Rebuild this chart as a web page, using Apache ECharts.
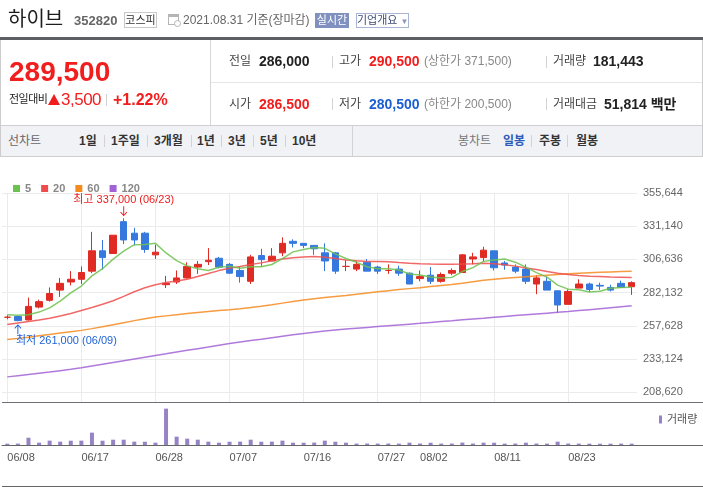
<!DOCTYPE html>
<html>
<head>
<meta charset="utf-8">
<script src="https://cdn.jsdelivr.net/npm/echarts@6/dist/echarts.min.js"></script>
<style>
  body { margin: 0; width: 703px; height: 487px; overflow: hidden; background: #fff;
         font-family: 'Liberation Sans', 'Noto Sans CJK KR', sans-serif; position: relative; }
  .t { position: absolute; white-space: nowrap; line-height: 1; z-index: 2; }
  .b { font-weight: bold; }
  .ln { position: absolute; z-index: 2; }
  .sep { position: absolute; width: 1px; height: 12px; background: #d3d3d3; z-index: 2; }
  #chart { position: absolute; left: 0; top: 0; width: 703px; height: 487px; z-index: 1; }
</style>
</head>
<body>
<div id="chart"></div>

<!-- title line -->
<div class="t" style="left:8px;top:8px;font-size:20px;color:#1d1d1d;font-family:'Noto Sans CJK KR'">하이브</div>
<div class="t b" style="left:74px;top:14px;font-size:13px;color:#666">352820</div>
<div class="t" style="left:124px;top:12px;width:31px;height:14px;border:1px solid #c9c9c9;font-size:11px;line-height:14px;color:#333;text-align:center">코스피</div>
<svg class="t" style="left:168px;top:13px" width="13" height="14" viewBox="0 0 13 14">
  <rect x="0.5" y="1.5" width="10" height="10" fill="none" stroke="#b5b5b5"/>
  <rect x="0.5" y="1.5" width="10" height="2.5" fill="#b5b5b5"/>
  <circle cx="9.5" cy="10.5" r="3" fill="#fff" stroke="#b5b5b5"/>
</svg>
<div class="t" style="left:183px;top:14px;font-size:12px;color:#666">2021.08.31 기준(장마감)</div>
<div class="t" style="left:315px;top:13px;width:34px;height:15px;background:#8091bf;color:#fff;font-size:11px;line-height:15px;text-align:center">실시간</div>
<div class="t" style="left:356px;top:13px;width:51px;height:13px;border:1px solid #a9b5d3;color:#3e4d78;font-size:11px;line-height:13px;text-align:center">기업개요 <span style="color:#8a96b5;font-size:8px">▼</span></div>

<div class="ln" style="left:0;top:37px;width:703px;height:3px;background:#5c5f64"></div>

<!-- price block -->
<div class="ln" style="left:0;top:40px;width:1px;height:117px;background:#ccc"></div>
<div class="ln" style="left:702px;top:40px;width:1px;height:117px;background:#ccc"></div>
<div class="ln" style="left:210px;top:40px;width:1px;height:85px;background:#d6d6d6"></div>
<div class="ln" style="left:211px;top:82px;width:491px;height:1px;background:#e6e6e6"></div>
<div class="ln" style="left:0;top:125px;width:703px;height:1px;background:#cfcfcf"></div>

<div class="t b" style="left:9px;top:58px;font-size:28px;color:#f21d1d">289,500</div>
<div class="t" style="left:9px;top:94px;font-size:11px;color:#222;letter-spacing:-0.5px">전일대비</div>
<div class="ln" style="left:48px;top:94px;width:0;height:0;border-left:6px solid transparent;border-right:6px solid transparent;border-bottom:11px solid #f21d1d"></div>
<div class="t" style="left:61px;top:91px;font-size:17px;color:#f21d1d;letter-spacing:-0.5px">3,500</div>
<div class="sep" style="left:106px;top:94px"></div>
<div class="t b" style="left:113px;top:92px;font-size:16px;color:#f21d1d">+1.22%</div>

<div class="t" style="left:229px;top:55px;font-size:12px;color:#444">전일</div>
<div class="t b" style="left:259px;top:54px;font-size:14px;color:#222">286,000</div>
<div class="sep" style="left:332px;top:56px"></div>
<div class="t" style="left:339px;top:55px;font-size:12px;color:#444">고가</div>
<div class="t b" style="left:369px;top:54px;font-size:14px;color:#f21d1d">290,500</div>
<div class="t" style="left:424px;top:55px;font-size:12px;color:#888">(상한가 371,500)</div>
<div class="sep" style="left:546px;top:56px"></div>
<div class="t" style="left:553px;top:55px;font-size:12px;color:#444">거래량</div>
<div class="t b" style="left:593px;top:54px;font-size:14px;color:#222">181,443</div>

<div class="t" style="left:229px;top:98px;font-size:12px;color:#444">시가</div>
<div class="t b" style="left:259px;top:97px;font-size:14px;color:#f21d1d">286,500</div>
<div class="sep" style="left:332px;top:98px"></div>
<div class="t" style="left:339px;top:98px;font-size:12px;color:#444">저가</div>
<div class="t b" style="left:369px;top:97px;font-size:14px;color:#1b5fd3">280,500</div>
<div class="t" style="left:424px;top:98px;font-size:12px;color:#888">(하한가 200,500)</div>
<div class="sep" style="left:546px;top:98px"></div>
<div class="t" style="left:553px;top:98px;font-size:12px;color:#444">거래대금</div>
<div class="t b" style="left:604px;top:97px;font-size:14px;color:#222">51,814 백만</div>

<!-- period tabs -->
<div class="ln" style="left:1px;top:126px;width:701px;height:30px;background:#f1f2f6"></div>
<div class="ln" style="left:0;top:156px;width:703px;height:1px;background:#cfcfcf"></div>
<div class="ln" style="left:352px;top:126px;width:1px;height:30px;background:#d3d3d3"></div>
<div class="t" style="left:8px;top:135px;font-size:12px;color:#666">선차트</div>
<div class="t b" style="left:79px;top:135px;font-size:12px;color:#333">1일</div>
<div class="sep" style="left:104px;top:135px"></div>
<div class="t b" style="left:111px;top:135px;font-size:12px;color:#333">1주일</div>
<div class="sep" style="left:147px;top:135px"></div>
<div class="t b" style="left:154px;top:135px;font-size:12px;color:#333">3개월</div>
<div class="sep" style="left:191px;top:135px"></div>
<div class="t b" style="left:197px;top:135px;font-size:12px;color:#333">1년</div>
<div class="sep" style="left:221px;top:135px"></div>
<div class="t b" style="left:228px;top:135px;font-size:12px;color:#333">3년</div>
<div class="sep" style="left:253px;top:135px"></div>
<div class="t b" style="left:260px;top:135px;font-size:12px;color:#333">5년</div>
<div class="sep" style="left:285px;top:135px"></div>
<div class="t b" style="left:292px;top:135px;font-size:12px;color:#333">10년</div>
<div class="t" style="left:458px;top:135px;font-size:12px;color:#777">봉차트</div>
<div class="t b" style="left:503px;top:135px;font-size:12px;color:#2c5bb8">일봉</div>
<div class="sep" style="left:531px;top:135px"></div>
<div class="t b" style="left:539px;top:135px;font-size:12px;color:#333">주봉</div>
<div class="sep" style="left:567px;top:135px"></div>
<div class="t b" style="left:576px;top:135px;font-size:12px;color:#333">월봉</div>

<!-- pane borders -->
<div class="ln" style="left:2px;top:402px;width:701px;height:1px;background:#6d7075"></div>
<div class="ln" style="left:2px;top:445px;width:701px;height:1px;background:#666"></div>
<div class="ln" style="left:2px;top:486px;width:701px;height:1px;background:#666"></div>

<script>
const dates = ['06/08','06/09','06/10','06/11','06/14','06/15','06/16','06/17','06/18','06/21',
  '06/22','06/23','06/24','06/25','06/28','06/29','06/30','07/01','07/02','07/05',
  '07/06','07/07','07/08','07/09','07/12','07/13','07/14','07/15','07/16','07/19',
  '07/20','07/21','07/22','07/23','07/26','07/27','07/28','07/29','07/30','08/02',
  '08/03','08/04','08/05','08/06','08/09','08/10','08/11','08/12','08/13','08/17',
  '08/18','08/19','08/20','08/23','08/24','08/25','08/26','08/27','08/30','08/31']

const openPrices = [264000,264500,262000,271500,276500,284000,290000,292000,298000,313000,
  311000,334500,326000,326000,310000,288000,290000,293000,301000,305000,
  307500,303000,298500,290500,309500,305500,311500,320000,318500,317000,
  311500,311500,301500,299500,304500,301000,298500,299500,296500,292500,
  295000,290500,296500,297000,307000,308000,313000,304000,301000,299500,
  288500,290500,283500,273500,285500,288500,287500,286000,289000,286500]
const closePrices = [264000,261500,272000,275500,281500,289000,292000,297000,313000,308000,
  324500,321000,321000,314000,312000,289000,293000,301500,303000,306000,
  301000,296500,294000,308500,306500,309000,318500,318500,317000,314500,
  305500,298000,301500,303000,298000,298000,298500,296500,288500,294000,
  290500,295500,298500,310000,308500,313500,300500,302500,298000,290500,
  293000,284000,273000,283000,288500,284500,287000,284000,286000,289500]
const highPrices = [265500,265000,278500,277000,286000,293000,298000,301500,327000,321000,
  324500,337000,330000,327000,317500,294500,298500,304500,305500,315000,
  308500,304000,301500,310000,314500,315000,323000,321500,318500,317000,
  318500,312000,306000,305500,307000,302000,303000,302000,297000,298500,
  301000,297000,300000,310500,311500,316000,313000,305500,303000,303000,
  295000,294000,283500,284500,292000,289500,289500,288000,291000,290500]
const lowPrices = [262500,261000,261500,270500,275500,279000,287500,288500,296500,299000,
  311000,318000,317000,311500,307000,285500,288500,292500,296000,302500,
  300000,296000,289500,288500,301500,305500,309000,315500,315000,310000,
  298000,296000,298000,298000,298000,296000,296000,294500,288500,290500,
  288500,289500,295000,297000,303000,305000,298500,299000,296500,288500,
  281000,284000,267000,273500,285500,282500,284000,283000,286000,280500]

const ma5 = [265800,265500,265800,267800,270900,275900,282000,287000,294500,299800,
  306900,312700,317500,317700,318500,311400,305800,301900,299700,298500,
  300900,301600,300100,301200,301300,302900,307300,312200,313900,315500,
  314800,310700,307300,304500,301200,299700,299800,298800,295900,295100,
  293600,293000,293400,297700,300600,305200,306200,307000,304600,301000,
  296900,293600,287700,284700,284300,282600,283200,285400,286000,286200]
const ma20 = [258700,259800,260900,262000,263300,264900,266800,269000,271200,273600,
  276200,279400,282800,285800,288000,289600,290800,292000,294100,296200,
  298400,300200,301400,302900,304100,305600,306900,307800,308500,308800,
  308300,307300,306300,305600,305200,305100,304900,304300,303800,303400,
  303200,303100,303100,303200,303400,303800,303500,302700,301700,300400,
  299200,297700,296500,295500,294700,294200,294000,293700,293500,293300]
const ma60 = [247500,248400,249300,250300,251300,252300,253300,254300,255600,257000,
  258500,260000,261500,262900,264100,265000,265900,266700,267500,268200,
  268900,269500,270200,271100,272100,273200,274400,275600,276700,277600,
  278500,279300,280100,281000,281900,282800,283600,284400,285100,285800,
  286600,287400,288100,289000,290200,291300,292000,292700,293300,293900,
  294500,295000,295500,296000,296400,296800,297100,297400,297700,298000]
const ma120 = [220000,220900,221800,222700,223600,224600,225600,226700,228000,229300,
  230600,231900,233200,234500,235800,237000,238300,239600,240800,242000,
  243300,244600,245700,246800,247800,248900,250000,251000,252000,252900,
  253800,254600,255300,255900,256500,257100,257700,258300,258900,259500,
  260200,260800,261400,262100,262700,263300,264000,264600,265200,265800,
  266400,267000,267600,268200,268900,269600,270300,271000,271700,272400]

const volumes = [180000,190000,1000000,320000,600000,460000,590000,600000,1700000,590000,
  730000,730000,460000,450000,320000,5000000,1150000,870000,730000,460000,
  320000,450000,460000,730000,450000,460000,600000,320000,310000,330000,
  600000,450000,320000,190000,200000,190000,200000,190000,320000,200000,
  310000,190000,200000,330000,200000,320000,310000,190000,200000,320000,
  200000,190000,460000,200000,190000,180000,170000,180000,190000,181443]

const priceTicks = [208620, 233124, 257628, 282132, 306636, 331140, 355644]
const dateTicks = ['06/08','06/17','06/28','07/07','07/16','07/27','08/02','08/11','08/23']

const FONT = "'Liberation Sans', 'Noto Sans CJK KR', sans-serif"
const RED = '#e02b25'
const BLUE = '#3679de'
const HI_RED = '#f01c1c'
const LO_BLUE = '#1f63d6'
const ARROW = 'path://M4.4,0 L5.6,0 L5.6,9 L8.6,6 L9.4,6.8 L5,11 L0.6,6.8 L1.4,6 L4.4,9 Z'
const fmt = n => n.toLocaleString('en-US')
const isTick = (idx, val) => dateTicks.indexOf(val) >= 0

const candleData = dates.map((d, i) => [openPrices[i], closePrices[i], lowPrices[i], highPrices[i]])
const hi = Math.max(...highPrices), hiIdx = highPrices.indexOf(hi)
const lo = Math.min(...lowPrices), loIdx = lowPrices.indexOf(lo)

const maLine = (name, data, color) => ({
  type: 'line', name: name, data: data, color: color,
  symbol: 'none', lineStyle: { width: 1.5, opacity: 0.85 }, z: 3
})

const myChart = echarts.init(document.getElementById('chart'))
myChart.setOption({
  animation: false,
  textStyle: { fontFamily: FONT },
  legend: [{
    data: ['5', '20', '60', '120'], left: 8, top: 178, icon: 'rect',
    itemWidth: 7, itemHeight: 7, itemGap: 10, selectedMode: false,
    textStyle: { color: '#888', fontSize: 11, fontWeight: 'bold' }
  }, {
    data: ['거래량'], left: 654, top: 409, icon: 'rect',
    itemWidth: 3, itemHeight: 8, selectedMode: false,
    textStyle: { color: '#555', fontSize: 11 }
  }],
  grid: [
    { left: 2, right: 66, top: 193, height: 209 },
    { left: 2, right: 66, top: 403, height: 42 }
  ],
  xAxis: [{
    type: 'category', data: dates, gridIndex: 0, show: false, boundaryGap: true
  }, {
    type: 'category', data: dates, gridIndex: 1, boundaryGap: true,
    axisLine: { lineStyle: { color: '#666' } },
    axisTick: { alignWithLabel: true, interval: isTick, length: 4, lineStyle: { color: '#666' } },
    axisLabel: { interval: isTick, align: 'left', color: '#555', fontSize: 11, margin: 7 },
    splitLine: { show: false }
  }],
  yAxis: [{
    type: 'value', gridIndex: 0, position: 'right', min: 201465, max: 355644,
    axisLine: { show: false },
    axisTick: { show: false, customValues: priceTicks },
    splitLine: { show: false },
    axisLabel: { customValues: priceTicks, color: '#666', fontSize: 11, margin: 6, formatter: v => fmt(v) }
  }, {
    type: 'value', gridIndex: 1, min: 0, max: 5775000, show: false
  }],
  series: [{
    type: 'candlestick', name: 'price', data: candleData, barWidth: 7,
    itemStyle: { color: RED, color0: BLUE, borderColor: RED, borderColor0: BLUE, borderColorDoji: RED, borderWidth: 1 },
    markLine: {
      silent: true, z: 1, symbol: ['none', 'none'], label: { show: false },
      lineStyle: { color: '#ebebeb', type: 'solid', width: 1 },
      data: dateTicks.map(d => ({ xAxis: d })).concat(priceTicks.map(v => ({ yAxis: v })))
    },
    markPoint: {
      silent: true, symbol: 'circle', symbolSize: 1, itemStyle: { color: 'rgba(0,0,0,0)' },
      data: [{
        // arrow above the highest candle
        coord: [dates[hiIdx], hi], symbol: ARROW, symbolSize: [7, 10], symbolOffset: [0, -7],
        itemStyle: { color: HI_RED }, label: { show: false }
      }, {
        coord: [dates[hiIdx], hi],
        label: {
          show: true, position: 'top', distance: 11,
          formatter: '최고 ' + fmt(hi) + ' (' + dates[hiIdx] + ')',
          color: HI_RED, fontSize: 11, lineHeight: 14, fontFamily: FONT
        }
      }, {
        // arrow below the lowest candle
        coord: [dates[loIdx], lo], symbol: ARROW, symbolSize: [7, 10], symbolOffset: [0, 8], symbolRotate: 180,
        itemStyle: { color: LO_BLUE }, label: { show: false }
      }, {
        coord: [dates[loIdx], lo],
        label: {
          show: true, position: 'bottom', distance: 13, align: 'left', offset: [-2, 0],
          formatter: '최저 ' + fmt(lo) + ' (' + dates[loIdx] + ')',
          color: LO_BLUE, fontSize: 11, lineHeight: 12, fontFamily: FONT
        }
      }]
    }
  },
  maLine('120', ma120, '#a262d6'),
  maLine('60', ma60, '#f58a1f'),
  maLine('20', ma20, '#ef4d4d'),
  maLine('5', ma5, '#6cc24f'),
  {
    type: 'bar', name: '거래량', xAxisIndex: 1, yAxisIndex: 1, data: volumes,
    barWidth: 4, itemStyle: { color: '#9683c6' }
  }]
})
</script>
</body>
</html>
